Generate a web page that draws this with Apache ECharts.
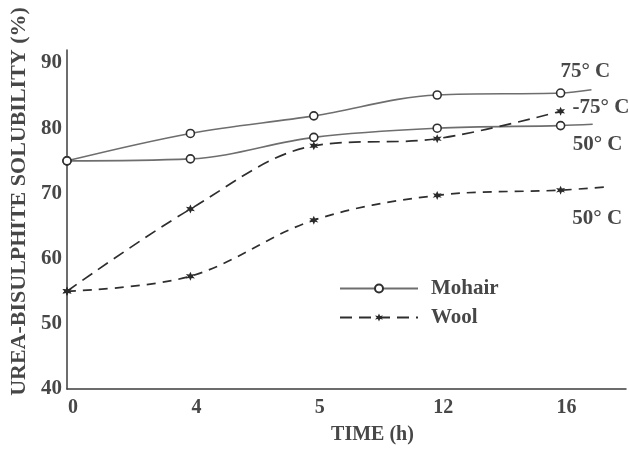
<!DOCTYPE html>
<html>
<head>
<meta charset="utf-8">
<script src="https://cdn.jsdelivr.net/npm/echarts@6/dist/echarts.min.js"></script>
<style>
  html, body { margin: 0; padding: 0; background: #ffffff; }
  #chart { width: 629px; height: 450px; }
</style>
</head>
<body>
<div id="chart"></div>
<script>
// Sampling times (h), drawn as evenly spaced positions
const timeLabels = ['0', '4', '5', '12', '16'];
const yTicks = [40, 50, 60, 70, 80, 90];

// Urea-bisulphite solubility (%)
const mohair75 = [75.0, 79.2, 81.9, 85.1, 85.4];
const mohair50 = [75.0, 75.3, 78.6, 80.0, 80.4];
const wool75   = [55.0, 67.6, 77.3, 78.4, 82.6];
const wool50   = [55.0, 57.3, 65.9, 69.7, 70.5];

// Short continuation of each curve past the last sample
const tailTime  = [4.25, 4.26, null, 4.37];
const tailValue = [85.9, 80.6, null, 71.0];

const curveNames  = ['Mohair', 'Mohair', 'Wool', 'Wool'];
const curveLabels = ['75° C', '50° C', '-75° C', '50° C'];

const FONT = '"Liberation Serif", "Times New Roman", serif';
const INK = '#474747';
const STAR = 'path://M5,0 L6.2,3.1 L9.3,2.5 L7.4,5 L9.3,7.5 L6.2,6.9 L5,10 L3.8,6.9 L0.7,7.5 L2.6,5 L0.7,2.5 L3.8,3.1 Z';

const labelOffsets = [[-31, -18], [-20, 20], [12, -4], [-34, 32]];
const dashPatterns = [null, null, [12, 7], [9, 7]];

function buildSeries(values, idx) {
  const isWool = curveNames[idx] === 'Wool';
  const data = values.map((v, i) => [i, v]);
  if (tailTime[idx] != null) {
    data.push({ value: [tailTime[idx], tailValue[idx]], symbol: 'none' });
  }
  return {
    name: curveNames[idx],
    type: 'line',
    smooth: 0.35,
    data: data,
    symbol: isWool ? STAR : 'circle',
    symbolSize: isWool ? 9 : 8,
    showAllSymbol: true,
    lineStyle: isWool
      ? { color: '#2e2e2e', width: 1.7, type: dashPatterns[idx] }
      : { color: '#6e6e6e', width: 1.6 },
    itemStyle: isWool
      ? { color: '#2a2a2a', borderWidth: 0 }
      : { color: '#ffffff', borderColor: '#2f2f2f', borderWidth: 1.6 },
    endLabel: {
      show: true,
      formatter: curveLabels[idx],
      distance: 0,
      align: 'left',
      verticalAlign: 'middle',
      offset: labelOffsets[idx],
      fontFamily: FONT,
      fontWeight: 'bold',
      fontSize: 21,
      color: INK
    },
    emphasis: { disabled: true },
    animation: false,
    z: isWool ? 3 : 2
  };
}

const chart = echarts.init(document.getElementById('chart'), null, { renderer: 'canvas' });

chart.setOption({
  backgroundColor: '#ffffff',
  animation: false,
  grid: { left: 67, right: 2, top: 50, bottom: 60, containLabel: false },
  legend: {
    data: ['Mohair', 'Wool'],
    orient: 'vertical',
    left: 334,
    top: 273,
    itemWidth: 78,
    itemHeight: 10,
    itemGap: 8,
    selectedMode: false,
    textStyle: {
      fontFamily: FONT, fontWeight: 'bold', fontSize: 21, color: INK,
      padding: [0, 0, 0, 8]
    }
  },
  xAxis: {
    type: 'value',
    min: 0,
    max: 4.53,
    interval: 1,
    name: 'TIME (h)',
    nameLocation: 'middle',
    nameGap: 36,
    nameTextStyle: {
      fontFamily: FONT, fontWeight: 'bold', fontSize: 20, color: INK,
      padding: [0, 0, 0, 52]
    },
    axisLine: { show: true, lineStyle: { color: '#3c3c3c', width: 1.5 } },
    axisTick: { show: false },
    splitLine: { show: false },
    axisLabel: {
      margin: 9,
      padding: [0, 0, 0, 12],
      fontFamily: FONT, fontWeight: 'bold', fontSize: 20, color: INK,
      formatter: v => (Number.isInteger(v) && timeLabels[v] != null) ? timeLabels[v] : ''
    }
  },
  yAxis: {
    type: 'value',
    min: 40,
    max: 92,
    interval: 10,
    name: 'UREA-BISULPHITE SOLUBILITY (%)',
    nameLocation: 'middle',
    nameGap: 34,
    nameTextStyle: {
      fontFamily: FONT, fontWeight: 'bold', fontSize: 22, color: INK,
      padding: [0, 0, 0, 36]
    },
    axisLine: { show: true, lineStyle: { color: '#3c3c3c', width: 1.5 } },
    axisTick: { show: false },
    splitLine: { show: false },
    axisLabel: {
      margin: 5,
      fontFamily: FONT, fontWeight: 'bold', fontSize: 21, color: INK,
      formatter: v => yTicks.includes(v) ? String(v) : ''
    }
  },
  series: [
    buildSeries(mohair75, 0),
    buildSeries(mohair50, 1),
    buildSeries(wool75, 2),
    buildSeries(wool50, 3)
  ]
});
</script>
</body>
</html>
